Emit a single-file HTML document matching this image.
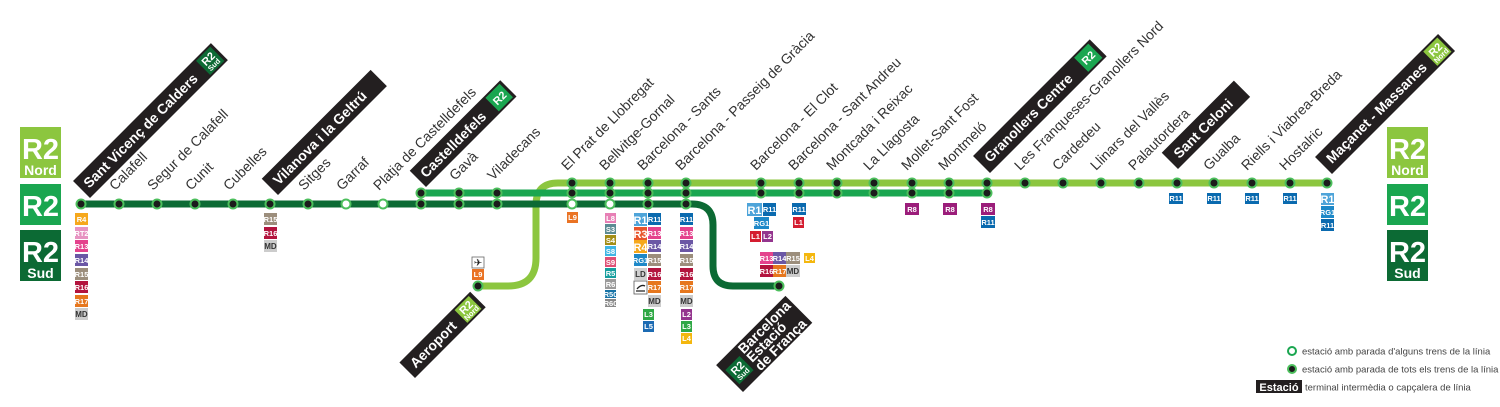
<!DOCTYPE html>
<html><head><meta charset="utf-8"><style>
html,body{margin:0;padding:0;background:#fff}
svg{display:block}
.st{font-family:"Liberation Sans",sans-serif;font-size:14px;fill:#333}
.bx{font-family:"Liberation Sans",sans-serif;font-size:14px;font-weight:bold;fill:#fff}
.b{font-family:"Liberation Sans",sans-serif;font-size:7.5px;font-weight:bold;fill:#fff;text-anchor:middle}
.bb{font-family:"Liberation Sans",sans-serif;font-size:11px;font-weight:bold;fill:#fff;text-anchor:middle}
.bd{font-family:"Liberation Sans",sans-serif;font-size:8px;font-weight:bold;fill:#333;text-anchor:middle}
.lg{font-family:"Liberation Sans",sans-serif;font-size:9.5px;fill:#444}
.big{font-family:"Liberation Sans",sans-serif;font-weight:bold;fill:#fff;text-anchor:middle}
</style></head><body>
<svg width="1500" height="407" viewBox="0 0 1500 407" xmlns="http://www.w3.org/2000/svg">
<!-- legend boxes left -->
<rect x="20" y="127" width="41" height="51" fill="#8cc63f"/><text class="big" x="40.5" y="159" font-size="29">R2</text><text class="big" x="40.5" y="175" font-size="14">Nord</text>
<rect x="20" y="184" width="41" height="41" fill="#1aa650"/><text class="big" x="40.5" y="216" font-size="29">R2</text>
<rect x="20" y="230" width="41" height="51" fill="#0c6a34"/><text class="big" x="40.5" y="262" font-size="29">R2</text><text class="big" x="40.5" y="278" font-size="14">Sud</text>
<!-- right -->
<rect x="1387" y="127" width="41" height="51" fill="#8cc63f"/><text class="big" x="1407.5" y="159" font-size="29">R2</text><text class="big" x="1407.5" y="175" font-size="14">Nord</text>
<rect x="1387" y="184" width="41" height="41" fill="#1aa650"/><text class="big" x="1407.5" y="216" font-size="29">R2</text>
<rect x="1387" y="230" width="41" height="51" fill="#0c6a34"/><text class="big" x="1407.5" y="262" font-size="29">R2</text><text class="big" x="1407.5" y="278" font-size="14">Sud</text>

<!-- lines -->
<path d="M478,286 H508 Q536,286 536,258 V205 Q536,183 558,183 H1327" fill="none" stroke="#8cc63f" stroke-width="7"/>
<path d="M421,193 H987" fill="none" stroke="#1aa650" stroke-width="7"/>
<path d="M81,204 H692 Q713,204 713,225 V266 Q713,286 733,286 H779" fill="none" stroke="#0c6a34" stroke-width="7"/>

<!-- stations -->
<g fill="#1b1b1b" stroke="#4cbf5c" stroke-width="2">
<circle cx="81" cy="204" r="4.5"/><circle cx="119" cy="204" r="4.5"/><circle cx="157" cy="204" r="4.5"/><circle cx="195" cy="204" r="4.5"/><circle cx="233" cy="204" r="4.5"/><circle cx="270" cy="204" r="4.5"/><circle cx="308" cy="204" r="4.5"/>
<circle cx="421" cy="204" r="4.5"/><circle cx="459" cy="204" r="4.5"/><circle cx="497" cy="204" r="4.5"/><circle cx="648" cy="204" r="4.5"/><circle cx="686" cy="204" r="4.5"/><circle cx="779" cy="286" r="4.5"/>
<circle cx="421" cy="193" r="4.5"/><circle cx="459" cy="193" r="4.5"/><circle cx="497" cy="193" r="4.5"/><circle cx="572" cy="193" r="4.5"/><circle cx="610" cy="193" r="4.5"/><circle cx="648" cy="193" r="4.5"/><circle cx="686" cy="193" r="4.5"/><circle cx="761" cy="193" r="4.5"/><circle cx="799" cy="193" r="4.5"/><circle cx="837" cy="193" r="4.5"/><circle cx="874" cy="193" r="4.5"/><circle cx="912" cy="193" r="4.5"/><circle cx="949" cy="193" r="4.5"/><circle cx="987" cy="193" r="4.5"/>
<circle cx="478" cy="286" r="4.5"/>
<circle cx="572" cy="183" r="4.5"/><circle cx="610" cy="183" r="4.5"/><circle cx="648" cy="183" r="4.5"/><circle cx="686" cy="183" r="4.5"/><circle cx="761" cy="183" r="4.5"/><circle cx="799" cy="183" r="4.5"/><circle cx="837" cy="183" r="4.5"/><circle cx="874" cy="183" r="4.5"/><circle cx="912" cy="183" r="4.5"/><circle cx="949" cy="183" r="4.5"/><circle cx="987" cy="183" r="4.5"/><circle cx="1025" cy="183" r="4.5"/><circle cx="1063" cy="183" r="4.5"/><circle cx="1101" cy="183" r="4.5"/><circle cx="1139" cy="183" r="4.5"/><circle cx="1177" cy="183" r="4.5"/><circle cx="1214" cy="183" r="4.5"/><circle cx="1252" cy="183" r="4.5"/><circle cx="1290" cy="183" r="4.5"/><circle cx="1327" cy="183" r="4.5"/>
</g>
<g fill="#fff" stroke="#4cbf5c" stroke-width="2">
<circle cx="346" cy="204" r="4.5"/><circle cx="383" cy="204" r="4.5"/><circle cx="572" cy="204" r="4.5"/><circle cx="610" cy="204" r="4.5"/>
</g>

<!-- station labels -->
<g class="st">
<text transform="translate(115,191) rotate(-45)">Calafell</text>
<text transform="translate(153,191) rotate(-45)">Segur de Calafell</text>
<text transform="translate(191,191) rotate(-45)">Cunit</text>
<text transform="translate(229,191) rotate(-45)">Cubelles</text>
<text transform="translate(304,191) rotate(-45)">Sitges</text>
<text transform="translate(342,191) rotate(-45)">Garraf</text>
<text transform="translate(379,191) rotate(-45)">Platja de Castelldefels</text>
<text transform="translate(455,181) rotate(-45)">Gavà</text>
<text transform="translate(493,181) rotate(-45)">Viladecans</text>
<text transform="translate(567,171) rotate(-45)">El Prat de Llobregat</text>
<text transform="translate(605,171) rotate(-45)">Bellvitge-Gornal</text>
<text transform="translate(643,171) rotate(-45)">Barcelona - Sants</text>
<text transform="translate(681,171) rotate(-45)">Barcelona - Passeig de Gràcia</text>
<text transform="translate(756,171) rotate(-45)">Barcelona - El Clot</text>
<text transform="translate(794,171) rotate(-45)">Barcelona - Sant Andreu</text>
<text transform="translate(832,171) rotate(-45)">Montcada i Reixac</text>
<text transform="translate(869,171) rotate(-45)">La Llagosta</text>
<text transform="translate(907,171) rotate(-45)">Mollet-Sant Fost</text>
<text transform="translate(944,171) rotate(-45)">Montmeló</text>
<text transform="translate(1020,171) rotate(-45)">Les Franqueses-Granollers Nord</text>
<text transform="translate(1058,171) rotate(-45)">Cardedeu</text>
<text transform="translate(1096,171) rotate(-45)">Llinars del Vallès</text>
<text transform="translate(1134,171) rotate(-45)">Palautordera</text>
<text transform="translate(1209,171) rotate(-45)">Gualba</text>
<text transform="translate(1247,171) rotate(-45)">Riells i Viabrea-Breda</text>
<text transform="translate(1285,171) rotate(-45)">Hostalric</text>
</g>

<!-- terminal boxes -->
<g transform="translate(90,198) rotate(-45)"><rect x="0" y="-24" width="195" height="24" fill="#231f20"/><text class="bx" x="6" y="-7">Sant Vicenç de Calders</text><rect x="172" y="-22" width="20" height="20" fill="#0c6a34"/><text class="bb" x="182" y="-11">R2</text><text class="b" x="182" y="-4" font-size="6">Sud</text></g>
<g transform="translate(278,195) rotate(-45)"><rect x="0" y="-23" width="154" height="23" fill="#231f20"/><text class="bx" x="7" y="-6">Vilanova i la Geltrú</text></g>
<g transform="translate(426,187) rotate(-45)"><rect x="0" y="-23" width="128" height="23" fill="#231f20"/><text class="bx" x="6" y="-6">Castelldefels</text><rect x="105" y="-21" width="20" height="19" fill="#1aa650"/><text class="bb" x="115" y="-7">R2</text></g>
<g transform="translate(990,173) rotate(-45)"><rect x="0" y="-24" width="165" height="24" fill="#231f20"/><text class="bx" x="7" y="-7">Granollers Centre</text><rect x="141" y="-22" width="20" height="20" fill="#1aa650"/><text class="bb" x="151" y="-8">R2</text></g>
<g transform="translate(1178,169) rotate(-45)"><rect x="0" y="-23" width="102" height="23" fill="#231f20"/><text class="bx" x="8" y="-6">Sant Celoni</text></g>
<g transform="translate(1332,174) rotate(-45)"><rect x="0" y="-24" width="174" height="24" fill="#231f20"/><text class="bx" x="7" y="-7">Maçanet - Massanes</text><rect x="151" y="-22" width="20" height="20" fill="#8cc63f"/><text class="bb" x="161" y="-11">R2</text><text class="b" x="161" y="-4" font-size="6">Nord</text></g>
<g transform="translate(415,378) rotate(-45)"><rect x="0" y="-22" width="100" height="22" fill="#231f20"/><text class="bx" x="7" y="-6">Aeroport</text><rect x="76" y="-20" width="20" height="18" fill="#8cc63f"/><text class="bb" x="86" y="-10">R2</text><text class="b" x="86" y="-3.5" font-size="6">Nord</text></g>
<g transform="translate(743,392) rotate(-45)"><rect x="0" y="-38" width="98" height="38" fill="#231f20"/><rect x="3" y="-28" width="20" height="20" fill="#0c6a34"/><text class="bb" x="13" y="-17">R2</text><text class="b" x="13" y="-10" font-size="6">Sud</text><text class="bx" x="27" y="-26" font-size="13">Barcelona</text><text class="bx" x="27" y="-14" font-size="13">Estació</text><text class="bx" x="27" y="-2" font-size="13">de França</text></g>

<!-- badges: Sant Vicenç -->
<g>
<rect x="75" y="213" width="13" height="12" fill="#f6a81c"/><text class="b" x="81.5" y="222">R4</text>
<rect x="75" y="227" width="13" height="12" fill="#e793c2"/><text class="b" x="81.5" y="236">RT2</text>
<rect x="75" y="240" width="13" height="12" fill="#e4428d"/><text class="b" x="81.5" y="249">R13</text>
<rect x="75" y="254" width="13" height="12" fill="#6b57a5"/><text class="b" x="81.5" y="263">R14</text>
<rect x="75" y="268" width="13" height="12" fill="#9c8e7c"/><text class="b" x="81.5" y="277">R15</text>
<rect x="75" y="281" width="13" height="12" fill="#b3143e"/><text class="b" x="81.5" y="290">R16</text>
<rect x="75" y="295" width="13" height="12" fill="#e6771e"/><text class="b" x="81.5" y="304">R17</text>
<rect x="75" y="308" width="13" height="12" fill="#cccccc"/><text class="bd" x="81.5" y="317">MD</text>
<!-- Vilanova -->
<rect x="264" y="213" width="13" height="12" fill="#9c8e7c"/><text class="b" x="270.5" y="222">R15</text>
<rect x="264" y="227" width="13" height="12" fill="#b3143e"/><text class="b" x="270.5" y="236">R16</text>
<rect x="264" y="240" width="13" height="12" fill="#cccccc"/><text class="bd" x="270.5" y="249">MD</text>
<!-- El Prat / Aeroport -->
<rect x="567" y="212" width="11" height="11" fill="#ea7324"/><text class="b" x="572.5" y="220">L9</text>
<rect x="472" y="257" width="12" height="11" fill="#fff" stroke="#666" stroke-width="0.8"/><text x="478" y="266" font-size="10" text-anchor="middle" fill="#222" font-family="DejaVu Sans,sans-serif">✈</text>
<rect x="472" y="269" width="12" height="11" fill="#ea7324"/><text class="b" x="478" y="277">L9</text>
<!-- Bellvitge -->
<rect x="605" y="213" width="11" height="10" fill="#e77fb5"/><text class="b" x="610.5" y="221">L8</text>
<rect x="605" y="224" width="11" height="10" fill="#5c8b93"/><text class="b" x="610.5" y="232">S3</text>
<rect x="605" y="235" width="11" height="10" fill="#a38e17"/><text class="b" x="610.5" y="243">S4</text>
<rect x="605" y="246" width="11" height="10" fill="#3fb5e3"/><text class="b" x="610.5" y="254">S8</text>
<rect x="605" y="257" width="11" height="10" fill="#df4f75"/><text class="b" x="610.5" y="265">S9</text>
<rect x="605" y="268" width="11" height="10" fill="#169e9e"/><text class="b" x="610.5" y="276">R5</text>
<rect x="605" y="279" width="11" height="10" fill="#9a9a9a"/><text class="b" x="610.5" y="287">R6</text>
<rect x="605" y="290" width="11" height="8" fill="#1773a6"/><text class="b" x="610.5" y="297" font-size="5">R50</text>
<rect x="605" y="299" width="11" height="8" fill="#888"/><text class="b" x="610.5" y="306" font-size="5">R60</text>
<!-- Sants -->
<rect x="634" y="213" width="13" height="13" fill="#4ea4d9"/><text class="bb" x="640.5" y="224">R1</text>
<rect x="634" y="227" width="13" height="13" fill="#e8542b"/><text class="bb" x="640.5" y="238">R3</text>
<rect x="634" y="240" width="13" height="13" fill="#f6a81c"/><text class="bb" x="640.5" y="251">R4</text>
<rect x="634" y="254" width="13" height="12" fill="#1d88c8"/><text class="b" x="640.5" y="263">RG1</text>
<rect x="634" y="268" width="13" height="12" fill="#d0d0d0"/><text class="bd" x="640.5" y="277">LD</text>
<rect x="634" y="281" width="13" height="13" fill="#fff" stroke="#555" stroke-width="0.8"/><path d="M636,291 L645,291 M637,289 Q641,284 645,286" stroke="#222" stroke-width="1.3" fill="none"/>
<rect x="648" y="213" width="13" height="12" fill="#0a6aaf"/><text class="b" x="654.5" y="222">R11</text>
<rect x="648" y="227" width="13" height="12" fill="#e4428d"/><text class="b" x="654.5" y="236">R13</text>
<rect x="648" y="240" width="13" height="12" fill="#6b57a5"/><text class="b" x="654.5" y="249">R14</text>
<rect x="648" y="254" width="13" height="12" fill="#9c8e7c"/><text class="b" x="654.5" y="263">R15</text>
<rect x="648" y="268" width="13" height="12" fill="#b3143e"/><text class="b" x="654.5" y="277">R16</text>
<rect x="648" y="281" width="13" height="12" fill="#e6771e"/><text class="b" x="654.5" y="290">R17</text>
<rect x="648" y="295" width="13" height="12" fill="#cccccc"/><text class="bd" x="654.5" y="304">MD</text>
<rect x="643" y="309" width="11" height="11" fill="#2fa845"/><text class="b" x="648.5" y="317">L3</text>
<rect x="643" y="321" width="11" height="11" fill="#1c6bb3"/><text class="b" x="648.5" y="329">L5</text>
<!-- PdG -->
<rect x="680" y="213" width="13" height="12" fill="#0a6aaf"/><text class="b" x="686.5" y="222">R11</text>
<rect x="680" y="227" width="13" height="12" fill="#e4428d"/><text class="b" x="686.5" y="236">R13</text>
<rect x="680" y="240" width="13" height="12" fill="#6b57a5"/><text class="b" x="686.5" y="249">R14</text>
<rect x="680" y="254" width="13" height="12" fill="#9c8e7c"/><text class="b" x="686.5" y="263">R15</text>
<rect x="680" y="268" width="13" height="12" fill="#b3143e"/><text class="b" x="686.5" y="277">R16</text>
<rect x="680" y="281" width="13" height="12" fill="#e6771e"/><text class="b" x="686.5" y="290">R17</text>
<rect x="680" y="295" width="13" height="12" fill="#cccccc"/><text class="bd" x="686.5" y="304">MD</text>
<rect x="681" y="309" width="11" height="11" fill="#94358e"/><text class="b" x="686.5" y="317">L2</text>
<rect x="681" y="321" width="11" height="11" fill="#2fa845"/><text class="b" x="686.5" y="329">L3</text>
<rect x="681" y="333" width="11" height="11" fill="#f4b70e"/><text class="b" x="686.5" y="341" fill="#333">L4</text>
<!-- El Clot -->
<rect x="747" y="203" width="15" height="13" fill="#4ea4d9"/><text class="bb" x="754.5" y="214">R1</text>
<rect x="763" y="203" width="13" height="13" fill="#0a6aaf"/><text class="b" x="769.5" y="212">R11</text>
<rect x="754" y="217" width="15" height="12" fill="#1d88c8"/><text class="b" x="761.5" y="226">RG1</text>
<rect x="750" y="231" width="11" height="11" fill="#d41d30"/><text class="b" x="755.5" y="239">L1</text>
<rect x="762" y="231" width="11" height="11" fill="#94358e"/><text class="b" x="767.5" y="239">L2</text>
<!-- Sant Andreu -->
<rect x="792" y="203" width="14" height="12" fill="#0a6aaf"/><text class="b" x="799" y="212">R11</text>
<rect x="793" y="217" width="11" height="11" fill="#d41d30"/><text class="b" x="798.5" y="225">L1</text>
<!-- França -->
<rect x="760" y="252" width="13" height="12" fill="#e4428d"/><text class="b" x="766.5" y="261">R13</text>
<rect x="773" y="252" width="13" height="12" fill="#6b57a5"/><text class="b" x="779.5" y="261">R14</text>
<rect x="786" y="252" width="14" height="12" fill="#9c8e7c"/><text class="b" x="793" y="261">R15</text>
<rect x="804" y="253" width="11" height="10" fill="#f4b70e"/><text class="b" x="809.5" y="261" fill="#333">L4</text>
<rect x="760" y="265" width="13" height="12" fill="#b3143e"/><text class="b" x="766.5" y="274">R16</text>
<rect x="773" y="265" width="13" height="12" fill="#e6771e"/><text class="b" x="779.5" y="274">R17</text>
<rect x="786" y="265" width="14" height="12" fill="#cccccc"/><text class="bd" x="793" y="274">MD</text>
<!-- R8 -->
<rect x="905" y="203" width="14" height="12" fill="#9b1d7a"/><text class="b" x="912" y="212" font-size="9">R8</text>
<rect x="943" y="203" width="14" height="12" fill="#9b1d7a"/><text class="b" x="950" y="212" font-size="9">R8</text>
<rect x="981" y="203" width="14" height="12" fill="#9b1d7a"/><text class="b" x="988" y="212" font-size="9">R8</text>
<rect x="981" y="216" width="14" height="12" fill="#0a6aaf"/><text class="b" x="988" y="225">R11</text>
<!-- R11 north -->
<rect x="1169" y="193" width="14" height="11" fill="#0a6aaf"/><text class="b" x="1176" y="201">R11</text>
<rect x="1207" y="193" width="14" height="11" fill="#0a6aaf"/><text class="b" x="1214" y="201">R11</text>
<rect x="1245" y="193" width="14" height="11" fill="#0a6aaf"/><text class="b" x="1252" y="201">R11</text>
<rect x="1283" y="193" width="14" height="11" fill="#0a6aaf"/><text class="b" x="1290" y="201">R11</text>
<rect x="1321" y="193" width="13" height="12" fill="#4ea4d9"/><text class="bb" x="1327.5" y="203">R1</text>
<rect x="1321" y="206" width="13" height="12" fill="#1d88c8"/><text class="b" x="1327.5" y="215">RG1</text>
<rect x="1321" y="219" width="13" height="12" fill="#0a6aaf"/><text class="b" x="1327.5" y="228">R11</text>
</g>

<!-- legend -->
<circle cx="1292" cy="351" r="4" fill="#fff" stroke="#1aa650" stroke-width="2"/>
<text class="lg" x="1302" y="354.5">estació amb parada d'alguns trens de la línia</text>
<circle cx="1292" cy="369" r="4" fill="#1b1b1b" stroke="#4cbf5c" stroke-width="2"/>
<text class="lg" x="1302" y="372.5">estació amb parada de tots els trens de la línia</text>
<rect x="1256" y="380" width="46" height="13" fill="#231f20"/>
<text x="1279" y="391" font-family="Liberation Sans,sans-serif" font-size="11" font-weight="bold" fill="#fff" text-anchor="middle">Estació</text>
<text class="lg" x="1305" y="390.5">terminal intermèdia o capçalera de línia</text>
</svg>
</body></html>
